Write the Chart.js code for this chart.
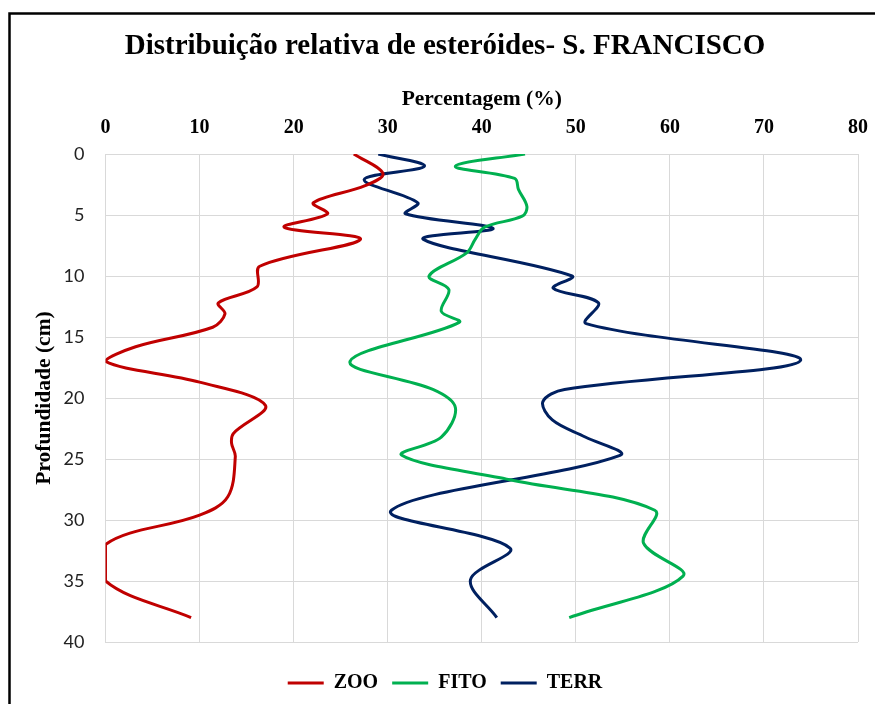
<!DOCTYPE html>
<html lang="pt">
<head>
    <meta charset="UTF-8">
    <title>Distribuição relativa de esteróides - S. Francisco</title>
    <script src="https://cdn.jsdelivr.net/npm/chart.js"></script>
    <style>
        body { margin: 0; background: #fff; overflow: hidden; }
        #wrap { width: 875px; height: 704px; }
    </style>
</head>
<body>
<div id="wrap"><canvas id="profile_chart" width="875" height="704"></canvas></div>
<script>
// depth (cm) and percentage, one pair per group
const zooDepth = [0, 1.6, 2.6, 4.0, 4.9, 6.0, 7.0, 9.2, 10.9, 12.2, 13.1, 14.2, 15.8, 17.0, 18.7, 20.6, 22.9, 23.7, 24.8, 28.1, 29.6, 32.0, 35.0, 38.0];
const zooPct   = [26.4, 29.5, 27.6, 22.1, 23.6, 19.0, 27.1, 16.4, 16.1, 12.0, 12.7, 11.4, 3.2, 0, 10.0, 17.0, 13.6, 13.4, 13.8, 13.0, 10.0, 0, 0, 9.1];

const fitoDepth = [0, 1.0, 2.0, 2.9, 4.3, 5.1, 6.0, 7.0, 8.1, 10.0, 11.1, 12.9, 13.8, 17.0, 19.3, 20.8, 23.2, 24.7, 26.7, 29.2, 31.9, 34.6, 38.0];
const fitoPct   = [44.6, 37.2, 43.5, 43.9, 44.8, 44.3, 40.3, 39.3, 38.4, 34.4, 36.5, 35.7, 37.6, 26.0, 34.8, 37.2, 35.7, 31.5, 43.0, 58.4, 57.2, 61.4, 49.3];

const terrDepth = [0, 1.0, 2.1, 4.0, 4.9, 6.1, 7.0, 10.0, 11.0, 12.2, 13.9, 16.9, 19.3, 20.3, 21.8, 23.2, 24.7, 29.2, 32.3, 34.9, 38.0];
const terrPct   = [29.0, 33.9, 27.5, 33.2, 31.9, 41.2, 33.8, 49.6, 47.6, 52.4, 51.1, 73.9, 48.8, 46.5, 47.5, 51.0, 54.7, 30.4, 43.0, 38.8, 41.6];

const seriesNames = ['ZOO', 'FITO', 'TERR'];
const colors = ['#C00000', '#00B050', '#002060'];
const xTicks = [0, 10, 20, 30, 40, 50, 60, 70, 80];
const yTicks = [0, 5, 10, 15, 20, 25, 30, 35, 40];

const serif = "'Liberation Serif', 'Times New Roman', serif";

function toPoints(depths, values) {
    return depths.map((d, i) => ({ x: values[i], y: d }));
}

// black frame around the figure (left and top edges show in the image)
const framePlugin = {
    id: 'frame',
    afterDraw(chart) {
        const ctx = chart.ctx;
        ctx.save();
        ctx.strokeStyle = '#000';
        ctx.lineWidth = 2.5;
        ctx.beginPath();
        ctx.moveTo(9.5, 710);
        ctx.lineTo(9.5, 13.5);
        ctx.lineTo(880, 13.5);
        ctx.stroke();
        ctx.restore();
    }
};

const datasets = [
    toPoints(zooDepth, zooPct),
    toPoints(fitoDepth, fitoPct),
    toPoints(terrDepth, terrPct)
].map((data, i) => ({
    label: seriesNames[i],
    data: data,
    borderColor: colors[i],
    backgroundColor: colors[i],
    borderWidth: 3,
    pointRadius: 0,
    showLine: true,
    tension: 0.35
}));

const ctx = document.getElementById('profile_chart').getContext('2d');
new Chart(ctx, {
    type: 'scatter',
    data: { datasets: datasets },
    plugins: [framePlugin],
    options: {
        responsive: false,
        animation: false,
        layout: { padding: { left: 32, right: 17, top: 0, bottom: 1 } },
        plugins: {
            title: {
                display: true,
                text: 'Distribuição relativa de esteróides- S. FRANCISCO',
                color: '#000',
                font: { family: serif, size: 29, weight: 'bold' },
                padding: { top: 29, bottom: 3 }
            },
            legend: {
                position: 'bottom',
                title: { display: true, text: '', font: { size: 10 }, padding: { top: 5, bottom: 0 } },
                labels: {
                    color: '#000',
                    font: { family: serif, size: 20, weight: 'bold' },
                    boxWidth: 36,
                    boxHeight: 3,
                    padding: 14,
                    generateLabels(chart) {
                        return chart.data.datasets.map((ds, i) => ({
                            text: ds.label,
                            fillStyle: ds.borderColor,
                            strokeStyle: ds.borderColor,
                            lineWidth: 0,
                            fontColor: '#000',
                            datasetIndex: i
                        }));
                    }
                }
            },
            tooltip: { enabled: false }
        },
        scales: {
            x: {
                type: 'linear',
                position: 'top',
                min: 0,
                max: 80,
                afterBuildTicks: (scale) => { scale.ticks = xTicks.map(v => ({ value: v })); },
                afterFit: (scale) => {
                    scale.height = 87.2;
                    // don't let tick padding push the plot edges inward
                    scale.paddingLeft = 0;
                    scale.paddingRight = 0;
                },
                title: {
                    display: true,
                    text: 'Percentagem (%)',
                    color: '#000',
                    font: { family: serif, size: 21.5, weight: 'bold' },
                    padding: { top: 20, bottom: 0 }
                },
                ticks: {
                    color: '#000',
                    font: { family: serif, size: 20, weight: 'bold' },
                    padding: 14
                },
                grid: { color: '#d9d9d9', lineWidth: 1, drawTicks: false },
                border: { color: '#d9d9d9' }
            },
            y: {
                type: 'linear',
                reverse: true,
                min: 0,
                max: 40,
                afterBuildTicks: (scale) => { scale.ticks = yTicks.map(v => ({ value: v })); },
                afterFit: (scale) => { scale.width = 73.5; },
                title: {
                    display: true,
                    text: 'Profundidade (cm)',
                    color: '#000',
                    font: { family: serif, size: 21.5, weight: 'bold' },
                    padding: { top: 0, bottom: 0 }
                },
                ticks: {
                    color: '#222',
                    font: { family: 'Lato, sans-serif', size: 18 },
                    padding: 21
                },
                grid: { color: '#d9d9d9', lineWidth: 1, drawTicks: false },
                border: { color: '#d9d9d9' }
            }
        }
    }
});
</script>
</body>
</html>
